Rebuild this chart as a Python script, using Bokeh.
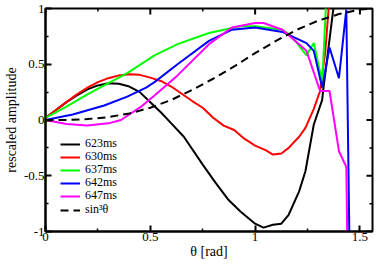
import math
from bokeh.plotting import figure
from bokeh.models import Range1d, FixedTicker, Legend, LegendItem, CustomJSTickFormatter
from bokeh.embed import file_html
from bokeh.resources import INLINE

# ---- data ----
x_623 = [0, 0.05, 0.1, 0.15, 0.2, 0.25, 0.3, 0.35, 0.4, 0.45, 0.5, 0.55, 0.6, 0.66, 0.75, 0.81, 0.87, 0.93, 1.0, 1.04, 1.085, 1.125, 1.16, 1.21, 1.24, 1.28, 1.32, 1.325, 1.38]
y_623 = [0.02, 0.09, 0.16, 0.22, 0.275, 0.31, 0.33, 0.325, 0.30, 0.25, 0.16, 0.07, -0.03, -0.15, -0.40, -0.56, -0.71, -0.82, -0.93, -0.965, -0.94, -0.93, -0.85, -0.64, -0.46, -0.04, 0.18, 0.27, 1.1]

x_630 = [0, 0.05, 0.1, 0.15, 0.2, 0.25, 0.3, 0.35, 0.4, 0.45, 0.5, 0.55, 0.6, 0.65, 0.7, 0.75, 0.8, 0.85, 0.9, 0.95, 1.0, 1.05, 1.085, 1.125, 1.16, 1.21, 1.24, 1.28, 1.31, 1.335, 1.355]
y_630 = [0.02, 0.09, 0.16, 0.23, 0.29, 0.34, 0.375, 0.40, 0.41, 0.405, 0.38, 0.35, 0.30, 0.235, 0.17, 0.11, 0.02, -0.05, -0.09, -0.17, -0.23, -0.27, -0.31, -0.30, -0.25, -0.15, -0.07, 0.10, 0.26, 0.62, 1.1]

x_637 = [0, 0.1, 0.2, 0.3, 0.39, 0.48, 0.52, 0.63, 0.78, 0.93, 1.0, 1.13, 1.175, 1.245, 1.28, 1.32, 1.34]
y_637 = [0.02, 0.12, 0.23, 0.33, 0.42, 0.53, 0.58, 0.68, 0.78, 0.84, 0.84, 0.81, 0.75, 0.58, 0.69, 0.34, 1.1]

x_642 = [0, 0.13, 0.28, 0.39, 0.48, 0.52, 0.63, 0.78, 0.89, 1.0, 1.13, 1.245, 1.28, 1.32, 1.355, 1.40, 1.435, 1.45]
y_642 = [0, 0.05, 0.13, 0.21, 0.29, 0.34, 0.50, 0.71, 0.81, 0.83, 0.79, 0.69, 0.62, 0.29, 0.65, 0.375, 0.99, -1.1]

x_647 = [0, 0.1, 0.2, 0.3, 0.36, 0.46, 0.52, 0.63, 0.78, 0.89, 1.0, 1.04, 1.13, 1.245, 1.31, 1.355, 1.40, 1.435, 1.44]
y_647 = [0, -0.035, -0.05, -0.03, 0, 0.125, 0.22, 0.40, 0.68, 0.83, 0.87, 0.87, 0.81, 0.62, 0.26, 0.26, -0.28, -0.42, -1.1]

x_sin3 = [0, 0.1, 0.2, 0.3, 0.4, 0.5, 0.6, 0.7, 0.8, 0.9, 1.0, 1.1, 1.2, 1.3, 1.4, 1.5, 1.57]
y_sin3 = [0, 0.001, 0.008, 0.026, 0.059, 0.11, 0.18, 0.27, 0.37, 0.48, 0.60, 0.71, 0.81, 0.89, 0.95, 0.99, 1.0]

series_labels = ["623ms", "630ms", "637ms", "642ms", "647ms", "sin\u00b3\u03b8"]
series_colors = ["#000000", "#ff0000", "#00ff00", "#0000ff", "#ff00ff", "#000000"]

x_ticks = [0, 0.5, 1, 1.5]
x_minor = [0.25, 0.75, 1.25]
y_ticks = [-1, -0.5, 0, 0.5, 1]
y_minor = [-0.75, -0.25, 0.25, 0.75]

X_MIN, X_MAX = 0, 1.56
Y_MIN, Y_MAX = -1, 1

FONT = "Liberation Serif"

p = figure(width=374, height=262, output_backend="svg", toolbar_location=None,
           x_range=Range1d(X_MIN, X_MAX), y_range=Range1d(Y_MIN, Y_MAX),
           min_border_left=43, min_border_right=2, min_border_top=8, min_border_bottom=31)
p.xgrid.visible = False
p.ygrid.visible = False
p.outline_line_color = "black"
p.outline_line_width = 2
p.background_fill_color = "white"
p.border_fill_color = "white"

fmt = CustomJSTickFormatter(code="return String(tick);")

def style(ax, ticks, minor, label_standoff):
    ax.ticker = FixedTicker(ticks=ticks, minor_ticks=minor)
    ax.axis_line_width = 2
    ax.axis_line_color = "black"
    ax.major_tick_in = 6
    ax.major_tick_out = 0
    ax.minor_tick_in = 3
    ax.minor_tick_out = 0
    ax.major_tick_line_width = 2
    ax.minor_tick_line_width = 1.5
    ax.formatter = fmt
    ax.major_label_text_font = FONT
    ax.major_label_text_color = "black"
    ax.major_label_text_font_size = "13px"
    ax.major_label_standoff = 1
    ax.axis_label_text_font = FONT
    ax.axis_label_text_font_style = "normal"
    ax.axis_label_text_color = "black"
    ax.axis_label_text_font_size = "14px"
    ax.axis_label_standoff = label_standoff

style(p.xaxis[0], x_ticks, x_minor, 0)
style(p.yaxis[0], y_ticks, y_minor, 2)
p.xaxis[0].axis_label = "\u03b8 [rad]"
p.yaxis[0].axis_label = "rescaled amplitude"

# inward ticks on the top and right frame edges (outer half clipped by the frame)
p.scatter(x_ticks, [Y_MAX] * len(x_ticks), marker="dash", size=12, angle=math.pi / 2,
          line_color="black", line_width=2)
p.scatter(x_minor, [Y_MAX] * len(x_minor), marker="dash", size=6, angle=math.pi / 2,
          line_color="black", line_width=1.5)
p.scatter([X_MAX] * len(y_ticks), y_ticks, marker="dash", size=12,
          line_color="black", line_width=2)
p.scatter([X_MAX] * len(y_minor), y_minor, marker="dash", size=6,
          line_color="black", line_width=1.5)

xs = [x_623, x_630, x_637, x_642, x_647, x_sin3]
ys = [y_623, y_630, y_637, y_642, y_647, y_sin3]

# legend rows: screen offsets (px) of each row above the frame bottom
legend_row_bottoms = [80, 67, 54, 41, 28, 14]

for i, (xv, yv) in enumerate(zip(xs, ys)):
    if i == 5:
        r = p.line(xv, yv, line_color=series_colors[i], line_width=2, line_dash="8 5")
    else:
        r = p.line(xv, yv, line_color=series_colors[i], line_width=2)
    lg = Legend(items=[LegendItem(label=series_labels[i], renderers=[r])],
                location=(15, legend_row_bottoms[i]))
    lg.label_text_font = FONT
    lg.label_text_font_size = "12px"
    lg.label_text_color = "black"
    lg.background_fill_alpha = 0
    lg.border_line_alpha = 0
    lg.spacing = 0
    lg.padding = 0
    lg.margin = 0
    lg.glyph_width = 20
    lg.glyph_height = 12
    lg.label_height = 12
    lg.label_standoff = 5
    p.add_layout(lg)

open("out.html", "w").write(file_html(p, INLINE))
